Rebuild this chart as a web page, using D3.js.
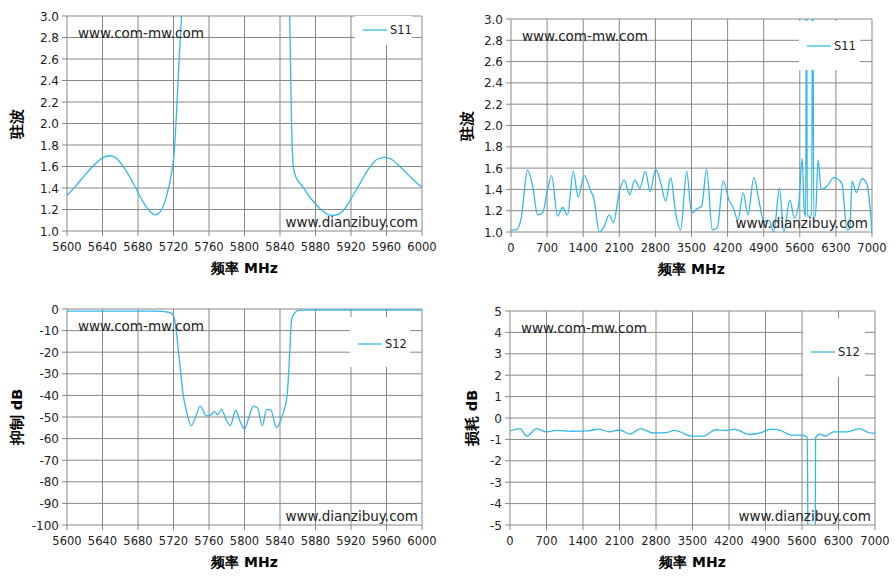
<!DOCTYPE html>
<html>
<head>
<meta charset="utf-8">
<script src="https://d3js.org/d3.v7.min.js"></script>
<style>
body { margin: 0; background: white; }
text { font-family: "DejaVu Sans", sans-serif; }
</style>
</head>
<body>
<svg id="chart" width="895" height="586"></svg>
<script>
// S11 narrow-band (5600-6000 MHz), VSWR
const s11nFreq = [5600,5610,5620,5630,5640,5648,5655,5665,5675,5685,5695,5700,5705,5712,5718,5721,5724,5727,5729,5735,5790,5845,5851,5853,5855,5858,5865,5875,5885,5895,5900,5910,5920,5930,5940,5950,5958,5965,5975,5985,5995,6000];
const s11nVal  = [1.33,1.42,1.52,1.61,1.68,1.70,1.68,1.58,1.44,1.28,1.17,1.15,1.18,1.32,1.55,1.75,2.2,2.7,3.0,5,8,5,3.0,2.0,1.6,1.5,1.42,1.30,1.21,1.15,1.145,1.18,1.30,1.44,1.58,1.67,1.685,1.67,1.60,1.52,1.44,1.41];

// S11 wide-band (0-7000 MHz)
const s11wFreq = [0,100,194,320,420,516,613,710,787,903,1000,1097,1206,1303,1419,1535,1613,1710,1806,1903,1987,2097,2193,2303,2400,2497,2606,2697,2806,2903,3000,3097,3193,3290,3406,3503,3612,3696,3793,3903,4000,4116,4226,4309,4400,4503,4593,4710,4806,4903,5000,5097,5206,5290,5406,5497,5581,5645,5690,5715,5729,5745,5774,5830,5851,5870,5903,5955,6013,6129,6258,6330,6419,6516,6570,6613,6696,6806,6903,7000];
const s11wVal  = [1.02,1.02,1.12,1.58,1.43,1.16,1.18,1.40,1.53,1.15,1.23,1.16,1.57,1.33,1.53,1.40,1.30,1.0,1.05,1.16,1.09,1.37,1.49,1.35,1.49,1.41,1.57,1.38,1.59,1.46,1.29,1.51,1.18,1.02,1.57,1.18,1.22,1.24,1.59,1.02,1.04,1.48,1.30,1.23,1.11,1.37,1.16,1.51,1.30,1.10,1.11,1.0,1.41,1.0,1.30,1.13,1.27,1.69,1.18,1.15,4,1.15,1.15,1.15,4,1.15,1.15,1.68,1.40,1.43,1.51,1.50,1.45,1.02,1.03,1.48,1.37,1.50,1.45,1.0];

// S12 narrow-band rejection (dB)
const s12nFreq = [5600,5700,5715,5720,5723,5727,5731,5735,5740,5745,5750,5757,5762,5766,5770,5774,5779,5784,5790,5795,5800,5805,5810,5815,5820,5825,5830,5836,5842,5848,5851,5853,5856,5862,5900,6000];
const s12nVal  = [-1,-1,-1.5,-3,-10,-25,-40,-48,-54,-50,-45,-49.5,-49,-47.5,-49,-46.5,-51,-54,-47,-52,-55.5,-50,-45,-46,-54,-46.5,-47,-55,-50,-40,-20,-5,-2,-0.5,-0.5,-0.5];

// S12 wide-band loss (dB)
const s12wFreq = [0,192,320,510,700,900,1200,1500,1700,1900,2100,2300,2500,2750,3000,3150,3500,3700,3950,4150,4300,4600,4800,5000,5150,5400,5600,5700,5725,5790,5850,5860,5950,6050,6200,6450,6700,6900,7000];
const s12wVal  = [-0.6,-0.5,-0.85,-0.5,-0.65,-0.58,-0.62,-0.6,-0.52,-0.65,-0.56,-0.75,-0.5,-0.7,-0.68,-0.58,-0.85,-0.85,-0.55,-0.58,-0.52,-0.77,-0.7,-0.52,-0.55,-0.8,-0.8,-0.9,-9,-9,-9,-0.9,-0.75,-0.85,-0.65,-0.65,-0.5,-0.7,-0.72];

const narrowTicks = d3.range(5600, 6001, 40);
const wideTicks = d3.range(0, 7001, 700);

const svg = d3.select("#chart");
const lineColor = "#33b8e8";

function panel(o) {
  const g = svg.append("g");
  const x = d3.scaleLinear().domain(o.xDomain).range([o.x0, o.x1]);
  const y = d3.scaleLinear().domain(o.yDomain).range([o.y1, o.y0]);
  const id = "clip" + o.x0 + "_" + o.y0;
  svg.append("clipPath").attr("id", id).append("rect")
    .attr("x", o.x0).attr("y", o.y0).attr("width", o.x1 - o.x0).attr("height", o.y1 - o.y0);

  // grid
  g.selectAll(".vg").data(o.xTicks).join("line")
    .attr("x1", d => x(d)).attr("x2", d => x(d)).attr("y1", o.y0).attr("y2", o.y1 + 5)
    .attr("stroke", "#888");
  g.selectAll(".hg").data(o.yTicks).join("line")
    .attr("x1", o.x0 - 5).attr("x2", o.x1).attr("y1", d => y(d)).attr("y2", d => y(d))
    .attr("stroke", "#888");

  // line
  const pts = o.freq.map((f, i) => [f, o.val[i]]);
  g.append("path").datum(pts)
    .attr("clip-path", "url(#" + id + ")")
    .attr("fill", "none").attr("stroke", lineColor).attr("stroke-width", 1.3)
    .attr("d", d3.line().x(d => x(d[0])).y(d => y(d[1])).curve(d3.curveMonotoneX));

  // tick labels
  g.selectAll(".xl").data(o.xTicks).join("text")
    .attr("x", d => x(d)).attr("y", o.y1 + 20).attr("text-anchor", "middle")
    .attr("font-size", 11.5).attr("fill", "#222").text(d => d);
  g.selectAll(".yl").data(o.yTicks).join("text")
    .attr("x", o.x0 - 8).attr("y", d => y(d) + 4.5).attr("text-anchor", "end")
    .attr("font-size", 12).attr("fill", "#222").text(o.yFmt);

  // titles
  g.append("text").attr("x", (o.x0 + o.x1) / 2).attr("y", o.y1 + 42)
    .attr("text-anchor", "middle").attr("font-size", 14).attr("font-weight", "bold")
    .attr("font-family", "'Noto Sans CJK SC', sans-serif").text("频率 MHz");
  g.append("text").attr("transform", "translate(" + o.ytx + "," + ((o.y0 + o.y1) / 2) + ") rotate(-90)")
    .attr("text-anchor", "middle").attr("font-size", 14.5).attr("font-weight", "bold")
    .attr("font-family", "'Noto Sans CJK SC', sans-serif").text(o.yTitle);

  // legend
  const lg = o.legend;
  g.append("rect").attr("x", lg[0]).attr("y", lg[1]).attr("width", lg[2]).attr("height", lg[3]).attr("fill", "white");
  const ly = lg[1] + lg[4];
  g.append("line").attr("x1", lg[0] + 8).attr("x2", lg[0] + 32).attr("y1", ly).attr("y2", ly)
    .attr("stroke", lineColor).attr("stroke-width", 1.3);
  g.append("text").attr("x", lg[0] + 35).attr("y", ly + 4).attr("font-size", 11.5)
    .attr("font-family", "'Liberation Sans', sans-serif").attr("fill", "#222").text(o.name);

  // watermarks
  g.append("text").attr("x", o.x0 + 11).attr("y", o.y0 + 22).attr("font-size", 13.5).attr("fill", "#222").text("www.com-mw.com");
  g.append("text").attr("x", o.x1 - 4).attr("y", o.y1 - 4).attr("text-anchor", "end").attr("font-size", 13.5).attr("fill", "#222").text("www.dianzibuy.com");
}

panel({ x0: 67, x1: 422, y0: 16, y1: 231, xDomain: [5600, 6000], yDomain: [1, 3],
  xTicks: narrowTicks, yTicks: d3.range(1, 3.01, 0.2), yFmt: d3.format(".1f"),
  freq: s11nFreq, val: s11nVal, yTitle: "驻波", ytx: 22, name: "S11", legend: [355, 16, 57, 29, 14] });
panel({ x0: 511, x1: 872, y0: 19, y1: 232, xDomain: [0, 7000], yDomain: [1, 3],
  xTicks: wideTicks, yTicks: d3.range(1, 3.01, 0.2), yFmt: d3.format(".1f"),
  freq: s11wFreq, val: s11wVal, yTitle: "驻波", ytx: 472, name: "S11", legend: [799, 21, 61, 49, 25] });
panel({ x0: 67, x1: 422, y0: 309, y1: 525, xDomain: [5600, 6000], yDomain: [-100, 0],
  xTicks: narrowTicks, yTicks: d3.range(-100, 1, 10), yFmt: d => d,
  freq: s12nFreq, val: s12nVal, yTitle: "抑制 dB", ytx: 22, name: "S12", legend: [350, 317, 60, 50, 27] });
panel({ x0: 510, x1: 875, y0: 311, y1: 525, xDomain: [0, 7000], yDomain: [-5, 5],
  xTicks: wideTicks, yTicks: d3.range(-5, 5.01, 1), yFmt: d => d,
  freq: s12wFreq, val: s12wVal, yTitle: "损耗 dB", ytx: 477, name: "S12", legend: [803, 318, 62, 59, 34] });
</script>
</body>
</html>
